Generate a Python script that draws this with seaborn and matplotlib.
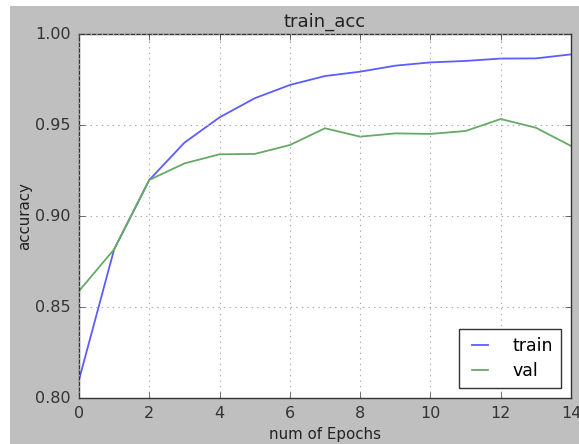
import numpy as np
import pandas as pd
import matplotlib
matplotlib.use('Agg')
import matplotlib.pyplot as plt
from matplotlib.patches import Rectangle
import seaborn as sns

# values
epochs = list(range(15))
train_acc = [0.810, 0.8817, 0.9198, 0.9403, 0.9542, 0.9647, 0.9720, 0.9769,
             0.9793, 0.9826, 0.9844, 0.9852, 0.9865, 0.9866, 0.9888]
val_acc = [0.8588, 0.8817, 0.9198, 0.9289, 0.9339, 0.9341, 0.9390, 0.9482,
           0.9436, 0.9454, 0.9451, 0.9467, 0.9533, 0.9485, 0.9385]
series = ['train', 'val']
xticks = [0, 2, 4, 6, 8, 10, 12, 14]
yticks = [0.80, 0.85, 0.90, 0.95, 1.00]

df = pd.DataFrame({
    'epoch': epochs * 2,
    'acc': train_acc + val_acc,
    'set': ['train'] * len(epochs) + ['val'] * len(epochs),
})

# old matplotlib look: grey figure, inward ticks, dotted grid
plt.style.use('classic')
plt.rcParams['font.family'] = 'DejaVu Sans'

fig = plt.figure(figsize=(5.79, 4.44), dpi=100, facecolor='#bfbfbf')
# thin white border on the left and top of the screenshot
fig.patches.append(Rectangle((0, 0), 10 / 579, 1, transform=fig.transFigure,
                             facecolor='white', edgecolor='none', zorder=-1))
fig.patches.append(Rectangle((0, 1 - 6 / 444), 1, 6 / 444, transform=fig.transFigure,
                             facecolor='white', edgecolor='none', zorder=-1))

ax = fig.add_axes([79 / 579, 1 - 398 / 444, (571 - 79) / 579, (398 - 34) / 444])
sns.lineplot(data=df, x='epoch', y='acc', hue='set', hue_order=series,
             palette={'train': '#5c5cff', 'val': '#66aa66'}, linewidth=1.3, ax=ax)

ax.set_xlim(0, 14)
ax.set_ylim(0.80, 1.00)
ax.set_xticks(xticks)
ax.set_yticks(yticks)
ax.set_yticklabels([f'{v:.2f}' for v in yticks])
ax.tick_params(labelsize=11.5, colors='#333333', direction='in', length=4, pad=6)
ax.grid(True, linestyle=':', color='#aaaaaa', linewidth=0.8)
for s in ax.spines.values():
    s.set_color('#333333')

ax.set_title('train_acc', fontsize=13, color='#222222', pad=5)
ax.set_xlabel('num of Epochs', fontsize=10.8, color='#222222', labelpad=4)
ax.set_ylabel('accuracy', fontsize=10.8, color='#222222', labelpad=2)

handles, labels = ax.get_legend_handles_labels()
leg = ax.legend(handles, labels, loc='lower right', fontsize=12.5,
                fancybox=False, borderpad=0.45, handlelength=1.5, handletextpad=1.1,
                labelspacing=0.4, borderaxespad=0.6)
leg.get_frame().set_edgecolor('#333333')

fig.savefig('out.png', dpi=100, facecolor=fig.get_facecolor())
